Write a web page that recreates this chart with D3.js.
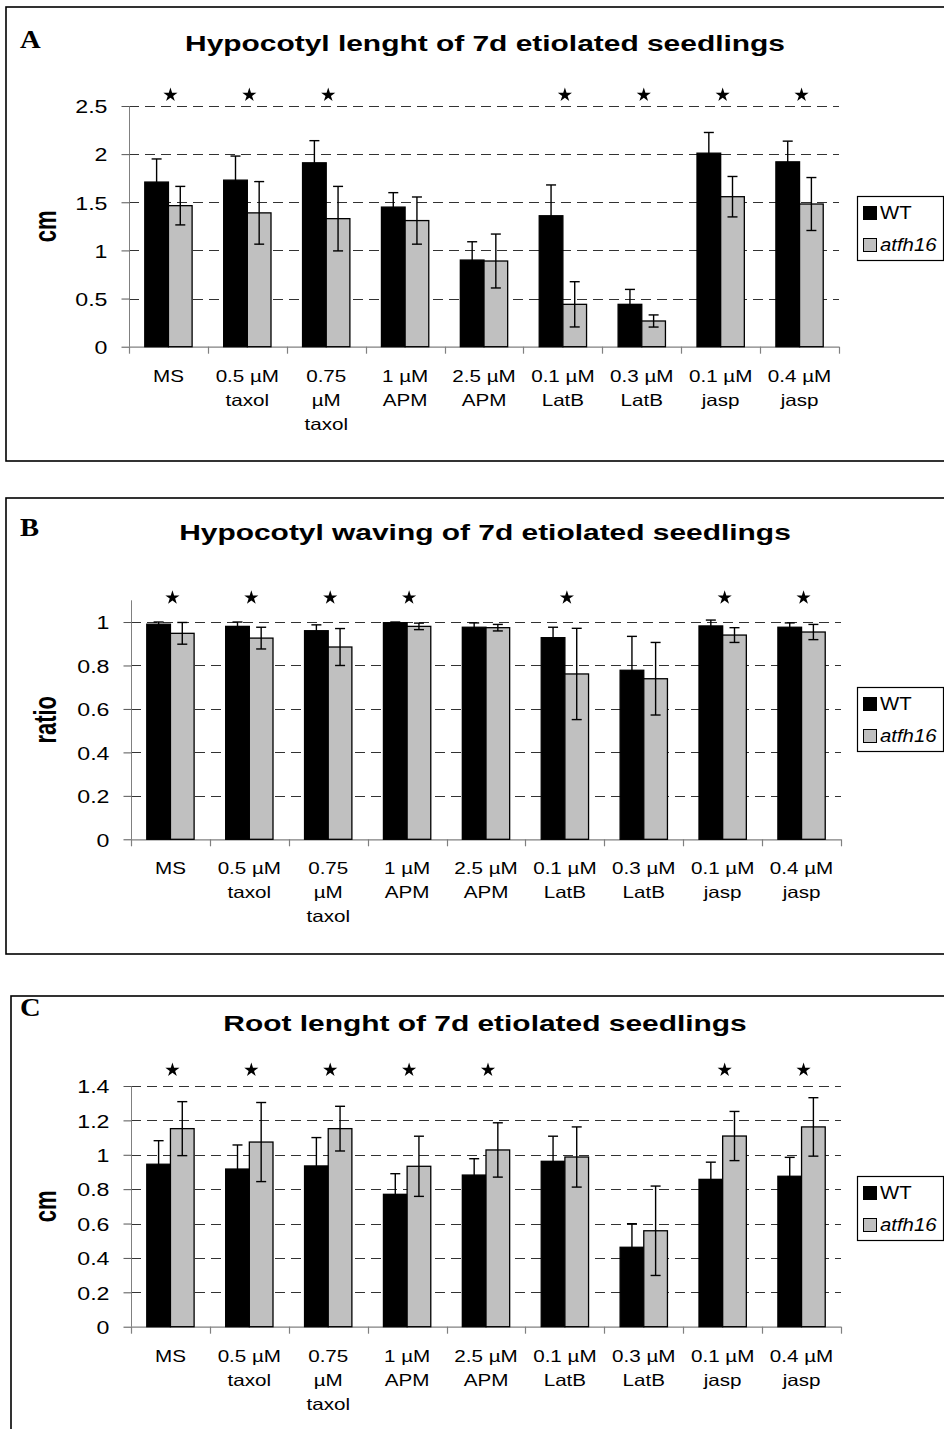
<!DOCTYPE html>
<html>
<head>
<meta charset="utf-8">
<script src="https://cdn.jsdelivr.net/npm/d3@7/dist/d3.min.js"></script>
<style>
  html, body { margin: 0; padding: 0; background: #fff; }
  svg { display: block; }
  text { font-family: "Liberation Sans", Arial, sans-serif; fill: #000; }
</style>
</head>
<body>
<svg id="chart" width="944" height="1429"></svg>
<script>
// ---------------- DATA ----------------
const categories = ["MS", "0.5 µM\ntaxol", "0.75\nµM\ntaxol", "1 µM\nAPM", "2.5 µM\nAPM",
                    "0.1 µM\nLatB", "0.3 µM\nLatB", "0.1 µM\njasp", "0.4 µM\njasp"];
const seriesNames = ["WT", "atfh16"];

// A: Hypocotyl length (cm)
const wtA      = [1.71, 1.73, 1.91, 1.45, 0.90, 1.36, 0.44, 2.01, 1.92];
const wtAErr   = [0.24, 0.25, 0.23, 0.15, 0.19, 0.32, 0.155, 0.215, 0.215];
const mutA     = [1.465, 1.39, 1.33, 1.31, 0.89, 0.44, 0.267, 1.558, 1.482];
const mutAErr  = [0.20, 0.325, 0.335, 0.245, 0.28, 0.235, 0.063, 0.21, 0.275];
const starsA   = [1, 1, 1, 0, 0, 1, 1, 1, 1];
const ticksA   = [0, 0.5, 1, 1.5, 2, 2.5];

// B: Hypocotyl waving (ratio)
const wtB      = [0.99, 0.98, 0.96, 0.997, 0.976, 0.928, 0.778, 0.982, 0.976];
const wtBErr   = [0.01, 0.02, 0.027, 0.003, 0.02, 0.048, 0.156, 0.027, 0.02];
const mutB     = [0.948, 0.926, 0.885, 0.98, 0.974, 0.761, 0.739, 0.94, 0.954];
const mutBErr  = [0.05, 0.05, 0.085, 0.015, 0.015, 0.21, 0.167, 0.034, 0.035];
const starsB   = [1, 1, 1, 1, 0, 1, 0, 1, 1];
const ticksB   = [0, 0.2, 0.4, 0.6, 0.8, 1];

// C: Root length (cm)
const wtC      = [0.945, 0.917, 0.935, 0.77, 0.882, 0.962, 0.462, 0.857, 0.875];
const wtCErr   = [0.137, 0.14, 0.165, 0.12, 0.095, 0.146, 0.137, 0.10, 0.11];
const mutC     = [1.152, 1.074, 1.152, 0.933, 1.028, 0.987, 0.558, 1.109, 1.162];
const mutCErr  = [0.157, 0.23, 0.13, 0.175, 0.158, 0.175, 0.26, 0.143, 0.17];
const starsC   = [1, 1, 1, 1, 1, 0, 0, 1, 1];
const ticksC   = [0, 0.2, 0.4, 0.6, 0.8, 1, 1.2, 1.4];

// ---------------- LAYOUT ----------------
const panels = [
  { letter: "A", title: "Hypocotyl lenght of 7d etiolated seedlings", ylab: "cm",
    wt: wtA, wtErr: wtAErr, mut: mutA, mutErr: mutAErr, stars: starsA, ticks: ticksA, ymax: 2.5,
    frame: [6, 7, 960, 461], letterY: 48, titleY: 51,
    x0: 129, x1: 839, y0: 346.7, yTop: 106, starY: 95, legY: 196 },
  { letter: "B", title: "Hypocotyl waving of 7d etiolated seedlings", ylab: "ratio",
    wt: wtB, wtErr: wtBErr, mut: mutB, mutErr: mutBErr, stars: starsB, ticks: ticksB, ymax: 1.1,
    frame: [6, 498, 960, 954], letterY: 536, titleY: 540,
    x0: 131, x1: 841, y0: 839.3, yTop: 600.3, starY: 597.7, legY: 687 },
  { letter: "C", title: "Root lenght of 7d etiolated seedlings", ylab: "cm",
    wt: wtC, wtErr: wtCErr, mut: mutC, mutErr: mutCErr, stars: starsC, ticks: ticksC, ymax: 1.4,
    frame: [11, 996, 960, 1460], letterY: 1016, titleY: 1031,
    x0: 131, x1: 841, y0: 1326.7, yTop: 1086, starY: 1070, legY: 1176 }
];

const svg = d3.select("#chart");
const colors = { WT: "#000000", atfh16: "#c0c0c0" };

function stext(g, x, y, str, sx) {
  return g.append("text")
    .attr("transform", `translate(${x},${y}) scale(${sx},1)`)
    .text(str);
}

panels.forEach(p => {
  const g = svg.append("g");

  // frame
  g.append("rect")
    .attr("x", p.frame[0]).attr("y", p.frame[1])
    .attr("width", p.frame[2] - p.frame[0]).attr("height", p.frame[3] - p.frame[1])
    .attr("fill", "none").attr("stroke", "#000").attr("stroke-width", 1.6);

  // panel letter
  stext(g, 20, p.letterY, p.letter, 1.1)
    .style("font-family", "'Liberation Serif', 'Times New Roman', serif")
    .style("font-weight", "bold").style("font-size", "26px");

  // title
  stext(g, 485, p.titleY, p.title, 1.36)
    .attr("text-anchor", "middle")
    .style("font-weight", "bold").style("font-size", "22px");

  const x = d3.scaleBand().domain(categories).range([p.x0, p.x1]).paddingInner(0).paddingOuter(0);
  const xs = d3.scaleBand().domain(seriesNames).range([x.bandwidth() * 0.2, x.bandwidth() * 0.8]);
  const y = d3.scaleLinear().domain([0, p.ymax]).range([p.y0, p.yTop]);

  // gridlines
  g.append("g").selectAll("line").data(p.ticks.filter(t => t > 0)).join("line")
    .attr("x1", p.x0).attr("x2", p.x1)
    .attr("y1", d => Math.round(y(d)) + 0.5).attr("y2", d => Math.round(y(d)) + 0.5)
    .attr("stroke", "#333").attr("stroke-width", 1).attr("stroke-dasharray", "10,6");

  // y axis
  const yAxis = d3.axisLeft(y).tickValues(p.ticks).tickSize(8).tickPadding(6).tickFormat(d3.format("~g"));
  const ya = g.append("g").attr("transform", `translate(${Math.round(p.x0) + 0.5},0)`).call(yAxis);
  ya.select(".domain").attr("stroke", "#808080").attr("d", `M0,${p.y0}V${p.yTop}`);
  ya.selectAll(".tick line").attr("stroke", "#555");
  ya.selectAll(".tick text").each(function () {
    const t = d3.select(this);
    const ty = +t.attr("y") || 0;
    t.attr("x", null).attr("dy", null)
      .attr("transform", `translate(-22,${ty}) scale(1.22,1)`)
      .attr("dominant-baseline", "central")
      .style("font-size", "19px").style("font-family", "'Liberation Sans', Arial, sans-serif")
      .attr("fill", "#000");
  });

  // x axis line + ticks at boundaries
  g.append("line").attr("x1", p.x0).attr("x2", p.x1)
    .attr("y1", p.y0 + 0.5).attr("y2", p.y0 + 0.5).attr("stroke", "#808080").attr("stroke-width", 1.2);
  const bounds = categories.map(c => x(c)).concat([x(categories[categories.length - 1]) + x.bandwidth()]);
  g.append("g").selectAll("line").data(bounds).join("line")
    .attr("x1", d => Math.round(d) + 0.5).attr("x2", d => Math.round(d) + 0.5)
    .attr("y1", p.y0).attr("y2", p.y0 + 7).attr("stroke", "#808080").attr("stroke-width", 1.2);

  // category labels
  categories.forEach(c => {
    const lines = c.split("\n");
    lines.forEach((ln, i) => {
      stext(g, x(c) + x.bandwidth() / 2, p.y0 + 35 + i * 24, ln, 1.25)
        .attr("text-anchor", "middle").style("font-size", "16.5px");
    });
  });

  // bars + error bars
  const rows = categories.map((c, i) => ({ c, vals: [
    { s: "WT", v: p.wt[i], e: p.wtErr[i] },
    { s: "atfh16", v: p.mut[i], e: p.mutErr[i] } ] }));
  rows.forEach(r => {
    r.vals.forEach(d => {
      const bx = x(r.c) + xs(d.s);
      g.append("rect")
        .attr("x", bx).attr("y", y(d.v))
        .attr("width", xs.bandwidth()).attr("height", p.y0 - y(d.v))
        .attr("fill", colors[d.s]).attr("stroke", "#000").attr("stroke-width", 1.3);
    });
    r.vals.forEach(d => {
      const cx = x(r.c) + xs(d.s) + xs.bandwidth() / 2;
      const lo = y(Math.max(0, d.v - d.e)), hi = y(d.v + d.e);
      g.append("line").attr("x1", cx).attr("x2", cx).attr("y1", lo).attr("y2", hi)
        .attr("stroke", "#000").attr("stroke-width", 1.4);
      [lo, hi].forEach(yy => g.append("line")
        .attr("x1", cx - 5).attr("x2", cx + 5).attr("y1", yy).attr("y2", yy)
        .attr("stroke", "#000").attr("stroke-width", 1.4));
    });
  });

  // significance stars
  const star = d3.symbol().type(d3.symbolStar).size(62);
  categories.forEach((c, i) => {
    if (p.stars[i]) {
      g.append("path").attr("d", star())
        .attr("transform", `translate(${x(c) + x.bandwidth() / 2 + 2},${p.starY})`)
        .attr("fill", "#000");
    }
  });

  // y label
  g.append("text")
    .attr("transform", `translate(${48 + 8},${(p.y0 + p.yTop) / 2}) scale(1.45,1) rotate(-90)`)
    .attr("text-anchor", "middle")
    .style("font-weight", "bold").style("font-size", "22px")
    .text(p.ylab);

  // legend
  const lg = g.append("g").attr("transform", `translate(857,${p.legY})`);
  lg.append("rect").attr("x", 0.5).attr("y", 0.5).attr("width", 86).attr("height", 64)
    .attr("fill", "#fff").attr("stroke", "#000").attr("stroke-width", 1.2);
  seriesNames.forEach((s, i) => {
    lg.append("rect").attr("x", 6.5).attr("y", 10.5 + i * 32).attr("width", 13).attr("height", 13)
      .attr("fill", colors[s]).attr("stroke", "#000").attr("stroke-width", 1);
    stext(lg, 23, 23 + i * 32, s, 1.1)
      .style("font-size", "18.5px")
      .style("font-style", s === "atfh16" ? "italic" : "normal");
  });
});
</script>
</body>
</html>
